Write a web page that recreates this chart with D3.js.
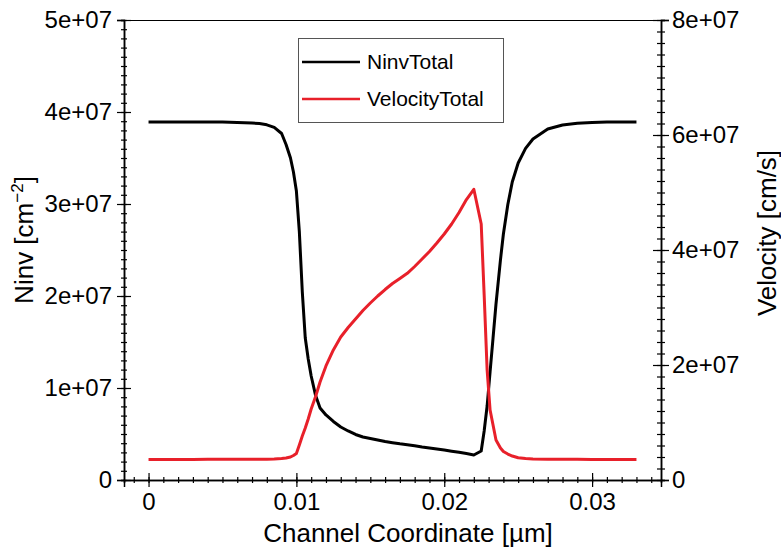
<!DOCTYPE html>
<html>
<head>
<meta charset="utf-8">
<script src="https://cdn.jsdelivr.net/npm/d3@7"></script>
<style>
  body { margin: 0; background: #fff; }
  svg { display: block; font-family: "Liberation Sans", Arial, Helvetica, sans-serif; }
</style>
</head>
<body>
<div id="chart"></div>
<script>
// Channel coordinate [um] of each mesh point
const channelCoord = [
  0, 0.001, 0.002, 0.003, 0.004, 0.005, 0.006, 0.007, 0.0075, 0.008, 0.0085,
  0.009, 0.0093, 0.0096, 0.0098, 0.01, 0.0102, 0.0104, 0.0106, 0.0108, 0.011,
  0.0113, 0.0116, 0.012, 0.0125, 0.013, 0.0135, 0.014, 0.0145, 0.015, 0.0155,
  0.016, 0.0165, 0.017, 0.0175, 0.018, 0.0185, 0.019, 0.0195, 0.02, 0.0205,
  0.021, 0.0215, 0.022, 0.0225, 0.0227, 0.0229, 0.0231, 0.0233,
  0.0235, 0.0238, 0.024, 0.0243, 0.0246, 0.025, 0.0255, 0.026, 0.027, 0.028,
  0.029, 0.03, 0.031, 0.032, 0.033
];

// NinvTotal [cm^-2]
const ninvTotal = [
  3.891e7, 3.891e7, 3.891e7, 3.891e7, 3.891e7, 3.890e7, 3.887e7, 3.880e7, 3.874e7, 3.861e7, 3.832e7,
  3.766e7, 3.647e7, 3.500e7, 3.348e7, 3.141e7, 2.696e7, 2.043e7, 1.543e7, 1.315e7, 1.130e7,
  9.18e6, 7.83e6, 7.07e6, 6.36e6, 5.76e6, 5.33e6, 4.95e6, 4.67e6, 4.51e6, 4.35e6,
  4.18e6, 4.05e6, 3.93e6, 3.83e6, 3.72e6, 3.59e6, 3.48e6, 3.37e6, 3.26e6, 3.13e6,
  3.01e6, 2.87e6, 2.72e6, 3.15e6, 5.33e6, 8.04e6, 1.174e7, 1.543e7,
  1.913e7, 2.391e7, 2.674e7, 2.995e7, 3.239e7, 3.446e7, 3.605e7, 3.707e7, 3.815e7, 3.859e7,
  3.877e7, 3.886e7, 3.890e7, 3.891e7, 3.891e7
];

// VelocityTotal [cm/s]
const velocityTotal = [
  3.57e6, 3.57e6, 3.58e6, 3.58e6, 3.59e6, 3.59e6, 3.6e6, 3.6e6, 3.6e6, 3.6e6, 3.65e6,
  3.74e6, 3.83e6, 4.0e6, 4.26e6, 4.61e6, 6.09e6, 7.65e6, 9.04e6, 1.061e7, 1.235e7,
  1.452e7, 1.704e7, 1.983e7, 2.261e7, 2.487e7, 2.652e7, 2.800e7, 2.948e7, 3.078e7, 3.200e7,
  3.313e7, 3.417e7, 3.504e7, 3.595e7, 3.713e7, 3.843e7, 3.974e7, 4.122e7, 4.278e7, 4.452e7,
  4.652e7, 4.878e7, 5.056e7, 4.452e7, 3.217e7, 1.913e7, 1.217e7, 9.57e6,
  6.96e6, 5.57e6, 4.96e6, 4.52e6, 4.17e6, 3.86e6, 3.72e6, 3.65e6, 3.6e6, 3.6e6,
  3.59e6, 3.58e6, 3.58e6, 3.57e6, 3.57e6
];

// Axis ticks
const xMajorTicks = [0, 0.01, 0.02, 0.03];
const xMinorTicks = d3.range(-1, 35).map((i) => i / 1000);
const ninvMajorTicks = [0, 1e7, 2e7, 3e7, 4e7, 5e7];
const ninvMinorTicks = d3.range(0, 51).map((i) => i * 1e6);
const velMajorTicks = [0, 2e7, 4e7, 6e7, 8e7];
const velMinorTicks = d3.range(0, 41).map((i) => i * 2e6);

const seriesNames = ["NinvTotal", "VelocityTotal"];
const seriesColors = ["#000000", "#e8202a"];

const WIDTH = 781;
const HEIGHT = 552;
const margin = { top: 20, right: 120, bottom: 72, left: 124 };

/**
 * Format like "5e+07", zero as "0"
 */
function sciFormat(v) {
  if (v === 0) return "0";
  return d3.format(".0e")(v).replace(/e([+-])(\d)$/, "e$10$2");
}

/**
 * Add an axis whose ticks cross the axis line (out + in)
 */
function addAxis(svg, axisFn, scale, values, size, fmt, padding, transform, orient) {
  const axis = axisFn(scale).tickValues(values).tickSizeOuter(0).tickSize(size).tickPadding(padding);
  axis.tickFormat(fmt || "");
  const g = svg.append("g").attr("transform", transform).call(axis);
  g.select(".domain").attr("stroke", "#000").attr("stroke-width", 1.5);
  const lines = g.selectAll(".tick line").attr("stroke", "#000").attr("stroke-width", 1.2);
  if (orient === "left") lines.attr("x1", size);
  if (orient === "right") lines.attr("x1", -size);
  if (orient === "bottom") lines.attr("y1", -size);
  g.selectAll(".tick text").attr("font-size", 24).attr("fill", "#000")
    .attr("font-family", "Liberation Sans, Arial, sans-serif");
  return g;
}

function renderChart(container) {
  const innerW = WIDTH - margin.left - margin.right;
  const innerH = HEIGHT - margin.top - margin.bottom;

  const svg = d3.select(container).append("svg").attr("width", WIDTH).attr("height", HEIGHT);

  // Scales: x padded 5% around the data range
  const xSpan = d3.max(channelCoord) - d3.min(channelCoord);
  const x = d3.scaleLinear()
    .domain([d3.min(channelCoord) - xSpan * 0.0503, d3.max(channelCoord) + xSpan * 0.0503])
    .range([margin.left, margin.left + innerW]);
  const yN = d3.scaleLinear().domain([0, 5e7]).range([margin.top + innerH, margin.top]);
  const yV = d3.scaleLinear().domain([0, 8e7]).range([margin.top + innerH, margin.top]);

  const bottom = margin.top + innerH;
  const right = margin.left + innerW;

  // Top frame line
  svg.append("line")
    .attr("x1", margin.left).attr("x2", right)
    .attr("y1", margin.top + 0.5).attr("y2", margin.top + 0.5)
    .attr("stroke", "#000").attr("stroke-width", 1);

  // Minor ticks first, then major ticks with labels
  addAxis(svg, d3.axisLeft, yN, ninvMinorTicks, 3, null, 0, `translate(${margin.left},0)`, "left");
  addAxis(svg, d3.axisLeft, yN, ninvMajorTicks, 7, sciFormat, 5, `translate(${margin.left},0)`, "left");
  addAxis(svg, d3.axisRight, yV, velMinorTicks, 4, null, 0, `translate(${right},0)`, "right");
  addAxis(svg, d3.axisRight, yV, velMajorTicks, 8, sciFormat, 3, `translate(${right},0)`, "right");
  addAxis(svg, d3.axisBottom, x, xMinorTicks, 3, null, 0, `translate(0,${bottom})`, "bottom");
  addAxis(svg, d3.axisBottom, x, xMajorTicks, 7, (d) => (d === 0 ? "0" : d3.format(".2f")(d)), 6,
    `translate(0,${bottom})`, "bottom");

  // Curves
  const lineN = d3.line().x((d, i) => x(channelCoord[i])).y((d) => yN(d));
  const lineV = d3.line().x((d, i) => x(channelCoord[i])).y((d) => yV(d));

  svg.append("path").datum(ninvTotal)
    .attr("d", lineN).attr("fill", "none")
    .attr("stroke", seriesColors[0]).attr("stroke-width", 3).attr("stroke-linejoin", "round");

  svg.append("path").datum(velocityTotal)
    .attr("d", lineV).attr("fill", "none")
    .attr("stroke", seriesColors[1]).attr("stroke-width", 3).attr("stroke-linejoin", "round");

  // Axis titles
  svg.append("text")
    .attr("x", 408).attr("y", 542)
    .attr("text-anchor", "middle").attr("font-size", 26)
    .text("Channel Coordinate [µm]");

  const ninvTitle = svg.append("text")
    .attr("transform", "translate(33,240) rotate(-90)")
    .attr("text-anchor", "middle").attr("font-size", 26);
  ninvTitle.append("tspan").text("Ninv [cm");
  ninvTitle.append("tspan").attr("font-size", 17).attr("dy", -10).text("−2");
  ninvTitle.append("tspan").attr("dy", 10).text("]");

  svg.append("text")
    .attr("transform", "translate(776,233) rotate(-90)")
    .attr("text-anchor", "middle").attr("font-size", 26)
    .text("Velocity [cm/s]");

  addLegend(svg);
}

/**
 * Legend box with the two series
 */
function addLegend(svg) {
  const g = svg.append("g");
  g.append("rect")
    .attr("x", 298.5).attr("y", 38.5).attr("width", 205).attr("height", 84)
    .attr("fill", "#fff").attr("stroke", "#555").attr("stroke-width", 1);

  const rowsY = [62, 99];
  seriesNames.forEach((name, i) => {
    g.append("line")
      .attr("x1", 302).attr("x2", 360).attr("y1", rowsY[i]).attr("y2", rowsY[i])
      .attr("stroke", seriesColors[i]).attr("stroke-width", 2.5);
    g.append("text")
      .attr("x", 367).attr("y", rowsY[i] + 7)
      .attr("font-size", 21).text(name);
  });
}

renderChart(document.getElementById("chart"));
</script>
</body>
</html>
